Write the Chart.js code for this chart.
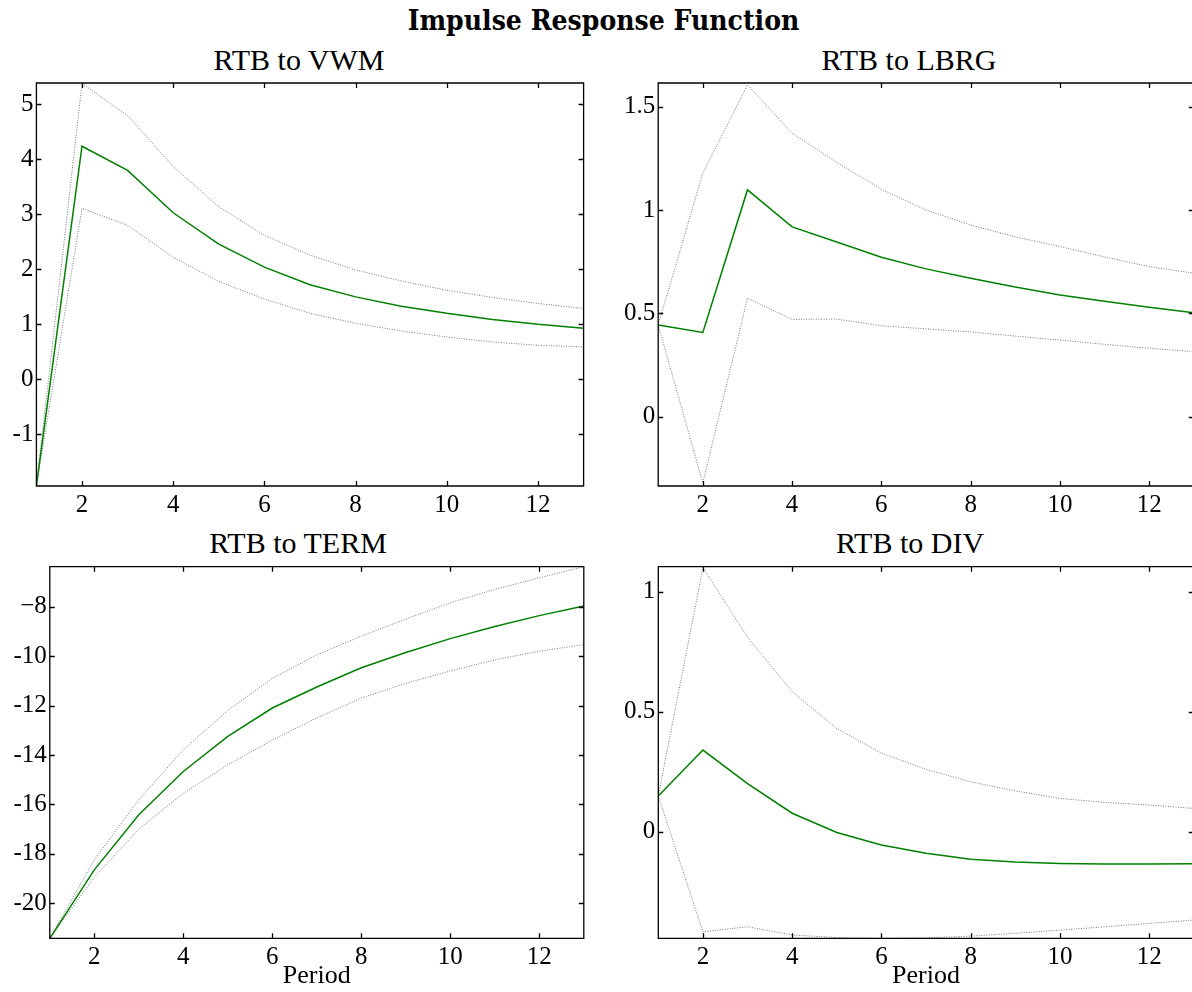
<!DOCTYPE html>
<html>
<head>
<meta charset="utf-8">
<script src="https://cdn.jsdelivr.net/npm/chart.js@4.4.1/dist/chart.umd.min.js"></script>
<style>
    html, body { margin: 0; padding: 0; background: #fff; overflow: hidden; }
    body { width: 1192px; height: 992px; position: relative; }
    #mainTitle {
        position: absolute; left: 0; top: 7px; width: 1207px; line-height: 28px;
        text-align: center; white-space: nowrap;
        font-family: 'DejaVu Serif'; font-weight: bold; font-size: 28px; color: #000;
        transform: scaleX(0.9); transform-origin: 603.5px 0;
    }
    .subTitle {
        position: absolute; width: 400px; height: 36px; line-height: 36px;
        text-align: center; white-space: nowrap;
        font-family: 'Liberation Serif', 'Times New Roman', serif; font-size: 30px; color: #000;
    }
    .panel { position: absolute; }
</style>
</head>
<body>
<div id="mainTitle">Impulse Response Function</div>
<div class="subTitle" style="left:99px;top:42px">RTB to VWM</div>
<div class="subTitle" style="left:709px;top:42px">RTB to LBRG</div>
<div class="subTitle" style="left:98px;top:525px">RTB to TERM</div>
<div class="subTitle" style="left:710px;top:525px">RTB to DIV</div>
<div class="panel" style="left:0px;top:78px;width:598px;height:452px"><canvas id="vwmChart"></canvas></div>
<div class="panel" style="left:600px;top:78px;width:594px;height:452px"><canvas id="lbrgChart"></canvas></div>
<div class="panel" style="left:0px;top:561px;width:596px;height:431px"><canvas id="termChart"></canvas></div>
<div class="panel" style="left:600px;top:561px;width:594px;height:431px"><canvas id="divChart"></canvas></div>

<script>
// Periods and x ticks
var periods = [1, 2, 3, 4, 5, 6, 7, 8, 9, 10, 11, 12, 13];
var xTickValues = [2, 4, 6, 8, 10, 12];
var xTickLabels = ['2', '4', '6', '8', '10', '12'];

// RTB to VWM
var vwmResponse = [-1.94, 4.24, 3.80, 3.03, 2.46, 2.04, 1.72, 1.50, 1.33, 1.20, 1.09, 1.00, 0.93];
var vwmUpper = [-1.94, 5.38, 4.80, 3.87, 3.14, 2.62, 2.26, 1.99, 1.79, 1.62, 1.49, 1.38, 1.29];
var vwmLower = [-1.94, 3.11, 2.80, 2.22, 1.78, 1.46, 1.20, 1.02, 0.88, 0.77, 0.68, 0.62, 0.59];
var vwmTickValues = [-1, 0, 1, 2, 3, 4, 5];
var vwmTickLabels = ['-1', '0', '1', '2', '3', '4', '5'];
var vwmRange = [-1.94, 5.39];

// RTB to LBRG
var lbrgResponse = [0.444, 0.408, 1.097, 0.918, 0.845, 0.771, 0.715, 0.670, 0.627, 0.589, 0.558, 0.529, 0.503];
var lbrgUpper = [0.444, 1.178, 1.605, 1.371, 1.230, 1.100, 1.000, 0.927, 0.870, 0.823, 0.773, 0.726, 0.694];
var lbrgLower = [0.444, -0.320, 0.573, 0.471, 0.472, 0.440, 0.425, 0.410, 0.390, 0.371, 0.350, 0.331, 0.315];
var lbrgTickValues = [0, 0.5, 1, 1.5];
var lbrgTickLabels = ['0', '0.5', '1', '1.5'];
var lbrgRange = [-0.335, 1.614];

// RTB to TERM
var termResponse = [-21.42, -18.65, -16.42, -14.67, -13.25, -12.10, -11.25, -10.47, -9.85, -9.29, -8.80, -8.36, -7.97];
var termUpper = [-21.42, -18.24, -15.81, -13.79, -12.20, -10.90, -9.95, -9.19, -8.50, -7.84, -7.30, -6.83, -6.38];
var termLower = [-21.42, -18.95, -17.00, -15.55, -14.40, -13.40, -12.50, -11.70, -11.10, -10.60, -10.15, -9.80, -9.53];
var termTickValues = [-20, -18, -16, -14, -12, -10, -8];
var termTickLabels = ['-20', '-18', '-16', '-14', '-12', '-10', '\u22128'];
var termRange = [-21.42, -6.38];

// RTB to DIV
var divResponse = [0.149, 0.340, 0.200, 0.077, -0.003, -0.055, -0.090, -0.115, -0.126, -0.132, -0.135, -0.135, -0.133];
var divUpper = [0.149, 1.100, 0.810, 0.583, 0.430, 0.327, 0.260, 0.208, 0.170, 0.139, 0.122, 0.111, 0.097];
var divLower = [0.149, -0.417, -0.396, -0.430, -0.441, -0.444, -0.442, -0.435, -0.423, -0.410, -0.396, -0.382, -0.368];
var divTickValues = [0, 0.5, 1];
var divTickLabels = ['0', '0.5', '1'];
var divRange = [-0.444, 1.104];

var serif = "'Liberation Serif', 'Times New Roman', serif";

function toPoints(values) {
    return values.map(function(v, i) { return { x: periods[i], y: v }; });
}

// box around the plot with inward ticks on all four sides (matlab style)
var boxTicks = {
    id: 'boxTicks',
    afterDatasetsDraw: function(chart) {
        var ctx = chart.ctx, a = chart.chartArea;
        var xs = chart.scales.x, ys = chart.scales.y;
        var len = 5;
        ctx.save();
        ctx.strokeStyle = '#000';
        ctx.lineWidth = 1.3;
        ctx.beginPath();
        ctx.rect(a.left, a.top, a.right - a.left, a.bottom - a.top);
        xs.ticks.forEach(function(t) {
            var px = Math.round(xs.getPixelForValue(t.value)) + 0.5;
            ctx.moveTo(px, a.bottom); ctx.lineTo(px, a.bottom - len);
            ctx.moveTo(px, a.top); ctx.lineTo(px, a.top + len);
        });
        ys.ticks.forEach(function(t) {
            var py = Math.round(ys.getPixelForValue(t.value)) + 0.5;
            ctx.moveTo(a.left, py); ctx.lineTo(a.left + len, py);
            ctx.moveTo(a.right, py); ctx.lineTo(a.right - len, py);
        });
        ctx.stroke();
        ctx.restore();
    }
};

function makePanel(id, response, upper, lower, yTicks, yLabels, yRange, layout) {
    var ctx = document.getElementById(id).getContext('2d');
    return new Chart(ctx, {
        type: 'line',
        data: {
            datasets: [{
                label: 'Response',
                data: toPoints(response),
                borderColor: '#008000',
                borderWidth: 1.5,
                pointRadius: 0,
                tension: 0,
                fill: false
            }, {
                label: 'Upper',
                data: toPoints(upper),
                borderColor: '#777777',
                borderWidth: 1,
                borderDash: [1, 1.5],
                pointRadius: 0,
                tension: 0,
                fill: false
            }, {
                label: 'Lower',
                data: toPoints(lower),
                borderColor: '#777777',
                borderWidth: 1,
                borderDash: [1, 1.5],
                pointRadius: 0,
                tension: 0,
                fill: false
            }]
        },
        options: {
            responsive: true,
            maintainAspectRatio: false,
            animation: false,
            events: [],
            layout: {
                padding: { left: 0, top: layout.topPad, right: layout.rightPad, bottom: 0 }
            },
            plugins: {
                legend: { display: false },
                tooltip: { enabled: false },
                title: { display: false }
            },
            scales: {
                x: {
                    type: 'linear',
                    min: 1,
                    max: 13,
                    grid: { display: false, drawTicks: false },
                    border: { display: false },
                    afterBuildTicks: function(scale) {
                        scale.ticks = xTickValues.map(function(v) { return { value: v }; });
                    },
                    afterFit: function(scale) {
                        scale.height = layout.xHeight;
                        scale.paddingLeft = 0;
                        scale.paddingRight = 0;
                    },
                    ticks: {
                        color: '#000',
                        font: { family: serif, size: 25 },
                        padding: 4,
                        maxRotation: 0,
                        autoSkip: false,
                        callback: function(v, i) { return xTickLabels[i]; }
                    },
                    title: {
                        display: layout.showPeriod,
                        text: 'Period',
                        color: '#000',
                        font: { family: serif, size: 26 },
                        padding: { top: 0, bottom: 0 }
                    }
                },
                y: {
                    min: yRange[0],
                    max: yRange[1],
                    grid: { display: false, drawTicks: false },
                    border: { display: false },
                    afterBuildTicks: function(scale) {
                        scale.ticks = yTicks.map(function(v) { return { value: v }; });
                    },
                    afterFit: function(scale) {
                        scale.width = layout.yWidth;
                        scale.paddingTop = 0;
                        scale.paddingBottom = 0;
                    },
                    ticks: {
                        color: '#000',
                        font: { family: serif, size: 25 },
                        padding: 3,
                        autoSkip: false,
                        callback: function(v, i) { return yLabels[i]; }
                    }
                }
            }
        },
        plugins: [boxTicks]
    });
}

window.onload = function() {
    makePanel('vwmChart', vwmResponse, vwmUpper, vwmLower,
        vwmTickValues, vwmTickLabels, vwmRange,
        { yWidth: 36.4, xHeight: 44, topPad: 5, rightPad: 14.4, showPeriod: false });

    makePanel('lbrgChart', lbrgResponse, lbrgUpper, lbrgLower,
        lbrgTickValues, lbrgTickLabels, lbrgRange,
        { yWidth: 58.2, xHeight: 44, topPad: 5, rightPad: 0.2, showPeriod: false });

    makePanel('termChart', termResponse, termUpper, termLower,
        termTickValues, termTickLabels, termRange,
        { yWidth: 49.8, xHeight: 53.7, topPad: 5.7, rightPad: 12.2, showPeriod: true });

    makePanel('divChart', divResponse, divUpper, divLower,
        divTickValues, divTickLabels, divRange,
        { yWidth: 58.3, xHeight: 53.7, topPad: 5.7, rightPad: 0.2, showPeriod: true });
};
</script>
</body>
</html>
